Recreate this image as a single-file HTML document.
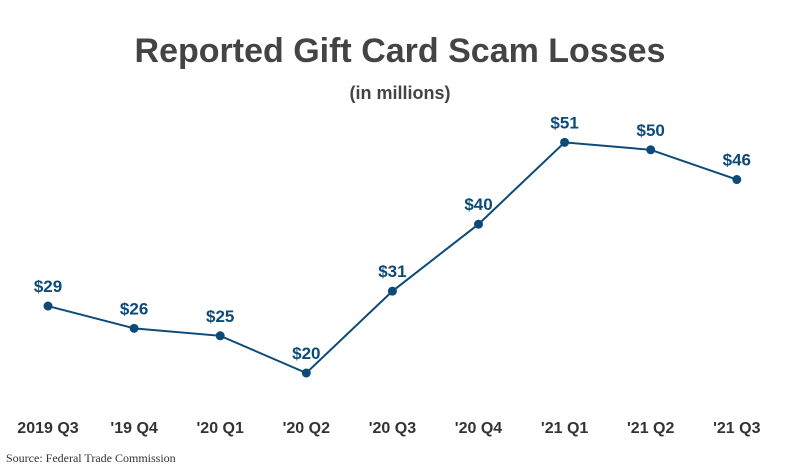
<!DOCTYPE html>
<html><head><meta charset="utf-8"><style>
body{margin:0;background:#fff;width:800px;height:473px;overflow:hidden}
svg{display:block}
</style></head><body>
<svg width="800" height="473">
<text x="400" y="62" text-anchor="middle" font-family="Liberation Sans, sans-serif" font-weight="bold" font-size="34" fill="#444">Reported Gift Card Scam Losses</text>
<text x="400" y="99" text-anchor="middle" font-family="Liberation Sans, sans-serif" font-weight="bold" font-size="18" fill="#444">(in millions)</text>
<g id="plot"></g>
<text x="6" y="462" font-family="Liberation Serif, serif" font-size="12" fill="#333">Source: Federal Trade Commission</text>
</svg>
<script>
const categories=["2019 Q3","'19 Q4","'20 Q1","'20 Q2","'20 Q3","'20 Q4","'21 Q1","'21 Q2","'21 Q3"];
const values=[29,26,25,20,31,40,51,50,46];
const valueLabels=["$29","$26","$25","$20","$31","$40","$51","$50","$46"];
const ns="http://www.w3.org/2000/svg";
const g=document.getElementById('plot');
const xs=i=>48+i*86.1;
const ys=v=>373-(v-20)*7.44;
const color="#0d4a78";
const pts=values.map((v,i)=>xs(i)+','+ys(v)).join(' ');
const pl=document.createElementNS(ns,'polyline');
pl.setAttribute('points',pts);pl.setAttribute('fill','none');pl.setAttribute('stroke',color);pl.setAttribute('stroke-width','2');


g.appendChild(pl);
values.forEach((v,i)=>{
const c=document.createElementNS(ns,'circle');
c.setAttribute('cx',xs(i));c.setAttribute('cy',ys(v));c.setAttribute('r','4.5');c.setAttribute('fill',color);


g.appendChild(c);
const t=document.createElementNS(ns,'text');
t.setAttribute('x',xs(i));t.setAttribute('y',ys(v)-14);t.setAttribute('text-anchor','middle');
t.setAttribute('font-family','Liberation Sans, sans-serif');t.setAttribute('font-weight','bold');t.setAttribute('font-size','17');t.setAttribute('fill',color);
t.textContent=valueLabels[i];


g.appendChild(t);
const x=document.createElementNS(ns,'text');
x.setAttribute('x',xs(i));x.setAttribute('y',433);x.setAttribute('text-anchor','middle');
x.setAttribute('font-family','Liberation Sans, sans-serif');x.setAttribute('font-weight','bold');x.setAttribute('font-size','16');x.setAttribute('fill','#333');
x.textContent=categories[i];


g.appendChild(x);
});
</script>
</body></html>
